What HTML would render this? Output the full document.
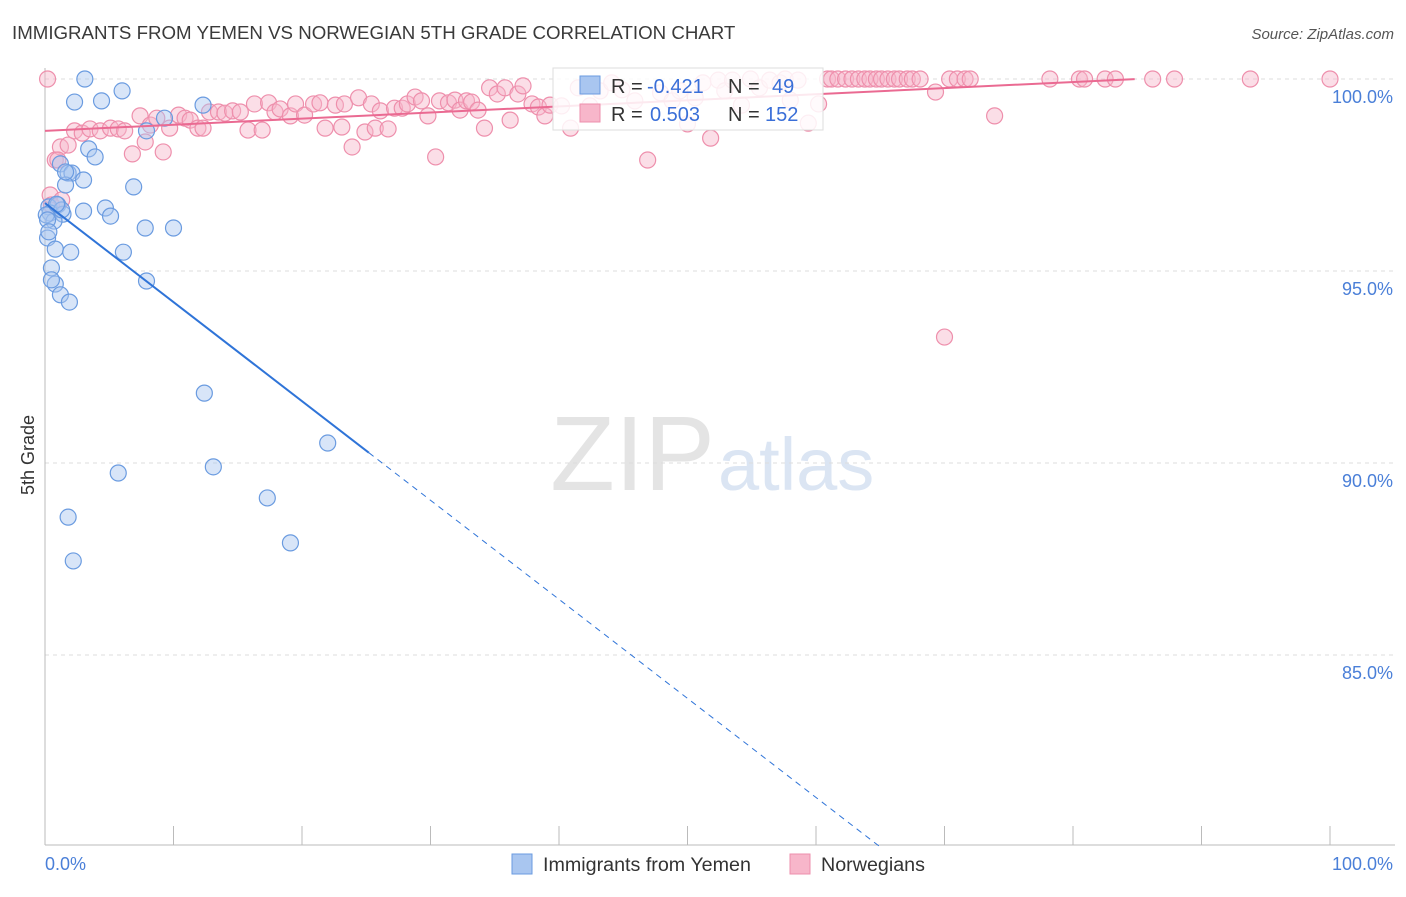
<!DOCTYPE html>
<html><head><meta charset="utf-8">
<style>
body{margin:0;background:#fff;font-family:"Liberation Sans",sans-serif;}
svg text{font-family:"Liberation Sans",sans-serif;}
</style></head>
<body>
<svg id="chart" width="1406" height="892" xmlns="http://www.w3.org/2000/svg">
<text x="12" y="39" font-size="18.7" fill="#3a3a3a">IMMIGRANTS FROM YEMEN VS NORWEGIAN 5TH GRADE CORRELATION CHART</text>
<text x="1394" y="39" font-size="15" fill="#555" text-anchor="end" font-style="italic">Source: ZipAtlas.com</text>
<text x="715" y="490" font-size="106" fill="#e4e4e4" text-anchor="end" font-family="Liberation Serif,serif">ZIP</text>
<text x="718" y="490" font-size="74" fill="#dbe5f3">atlas</text>
<text x="34" y="455" font-size="18" fill="#333" text-anchor="middle" transform="rotate(-90 34 455)">5th Grade</text>
<g id="grid"></g><g id="axes"></g><g id="marks"></g><g id="lines"></g>
<g>
<rect x="553" y="68" width="270" height="62" fill="#fff" fill-opacity="0.85" stroke="#ddd"/>
<rect x="580" y="76" width="20" height="18" fill="#a9c6f0" stroke="#6a9be0"/>
<rect x="580" y="104" width="20" height="18" fill="#f7b6ca" stroke="#ee8fac"/>
<text x="611" y="93" font-size="20" fill="#333">R =</text>
<text x="647" y="93" font-size="20" fill="#3a6fd8">-0.421</text>
<text x="728" y="93" font-size="20" fill="#333">N =</text>
<text x="772" y="93" font-size="20" fill="#3a6fd8">49</text>
<text x="611" y="121" font-size="20" fill="#333">R =</text>
<text x="650" y="121" font-size="20" fill="#3a6fd8">0.503</text>
<text x="728" y="121" font-size="20" fill="#333">N =</text>
<text x="765" y="121" font-size="20" fill="#3a6fd8">152</text>
</g>
<g>
<rect x="512" y="854" width="20" height="20" fill="#a9c6f0" stroke="#6a9be0"/>
<text x="543" y="871" font-size="19.7" fill="#333">Immigrants from Yemen</text>
<rect x="790" y="854" width="20" height="20" fill="#f7b6ca" stroke="#ee8fac"/>
<text x="821" y="871" font-size="19.7" fill="#333">Norwegians</text>
</g>
</svg>
<script>
const yTicks=[100,95,90,85];
const xTickLabels=["0.0%","100.0%"];
const blueX=[3.1,6,2.3,4.4,12.3,9.3,7.9,3.4,3.9,1.2,1.8,2.1,3,1.6,6.9,0.3,1,4.7,3,0.4,1.4,5.1,0.7,7.8,10,0.2,0.8,2,6.1,0.5,0.8,7.9,1.2,1.9,12.4,22,13.1,5.7,17.3,1.8,19.1,2.2,0.1,0.5,1.3,0.2,0.9,0.3,1.6];
const blueY=[100,99.69,99.4,99.43,99.32,98.98,98.65,98.18,97.97,97.79,97.55,97.55,97.37,97.24,97.19,96.67,96.72,96.64,96.56,96.51,96.48,96.43,96.3,96.12,96.12,95.86,95.57,95.49,95.49,95.08,94.66,94.74,94.38,94.19,91.82,90.52,89.9,89.74,89.09,88.59,87.92,87.45,96.46,94.77,96.59,96.33,96.74,96.02,97.58];
const pinkX=[0.8,1.2,1.8,2.3,2.9,3.5,4.3,5.1,5.7,6.2,6.8,7.4,7.8,8.2,8.7,9.2,9.7,10.4,10.9,11.3,11.9,12.3,12.8,13.5,14,14.6,15.2,15.8,16.3,16.9,17.4,17.9,18.3,19.1,19.5,20.2,20.9,21.4,21.8,22.6,23.1,23.3,23.9,24.4,24.9,25.4,25.7,26.1,26.7,27.2,27.8,28.2,28.8,29.3,29.8,30.4,30.7,31.4,31.9,32.3,32.8,33.2,33.7,34.2,34.6,35.2,35.8,36.2,36.8,37.2,37.9,38.4,38.9,39.3,40.2,40.9,41.5,42.4,43.2,44.1,44.9,45.9,46.9,47.9,48.8,49.4,50,50.6,51.2,51.8,52.4,52.9,53.5,54.2,54.9,55.6,56.4,57.2,57.6,58,58.6,59.4,60.2,60.9,61.2,61.7,62.3,62.8,63.3,63.8,64.2,64.7,65.1,65.6,66.1,66.5,67.1,67.5,68.1,69.3,70,70.4,71,71.6,72,73.9,78.2,80.5,80.9,82.5,83.3,86.2,87.9,93.8,100,0.2,0.4,0.5,1,1.3];
const pinkY=[97.89,98.23,98.28,98.65,98.59,98.7,98.65,98.72,98.7,98.65,98.05,99.04,98.36,98.8,98.98,98.1,98.72,99.06,98.98,98.93,98.72,98.72,99.14,99.14,99.11,99.17,99.14,98.67,99.35,98.67,99.38,99.14,99.22,99.04,99.35,99.06,99.35,99.38,98.72,99.32,98.75,99.35,98.23,99.51,98.62,99.35,98.72,99.17,98.7,99.24,99.24,99.35,99.53,99.43,99.04,97.97,99.43,99.38,99.45,99.19,99.43,99.4,99.19,98.72,99.77,99.61,99.77,98.93,99.61,99.82,99.35,99.27,99.04,99.32,99.3,98.72,99.77,99.3,99.69,99.9,99.72,99.43,97.89,99.64,99.43,99.69,98.83,99.51,99.9,98.46,99.97,99.69,99.97,99.32,100,99.77,99.97,99.9,100,99.45,99.97,98.85,99.35,100,100,100,100,100,100,100,100,100,100,100,100,100,100,100,100,99.66,93.28,100,100,100,100,99.04,100,100,100,100,100,100,100,100,100,100,96.98,96.72,97.89,96.85,96.9];
const blueFit={x0:0,y0:96.77,slope:-0.258,solidEnd:25.2,end:65};
const pinkFit={x0:0,y0:98.65,slope:0.0159,end:84.8};
const X0=45,X1=1330,Y100=79,PX_PER_PCT=38.4,BOTTOM=845;
function sx(v){return X0+(X1-X0)*v/100;}
function sy(v){return Y100+(100-v)*PX_PER_PCT;}
const NS="http://www.w3.org/2000/svg";
function mk(tag,attrs,parent){const e=document.createElementNS(NS,tag);for(const k in attrs)e.setAttribute(k,attrs[k]);parent.appendChild(e);return e;}
const grid=document.getElementById('grid'),axes=document.getElementById('axes'),marks=document.getElementById('marks'),lines=document.getElementById('lines');
yTicks.forEach(t=>{
 const l=mk('line',{x1:X0,x2:1395,y1:sy(t),y2:sy(t),stroke:'#ddd','stroke-dasharray':'4,4'},grid);
 
 
 const tx=mk('text',{x:1393,y:sy(t)+24,'font-size':18,fill:'#4a7fd8','text-anchor':'end'},axes);
 tx.textContent=t.toFixed(1)+'%';
 
 
});
const ax=mk('line',{x1:X0,x2:X0,y1:68,y2:BOTTOM,stroke:'#bbb'},axes);


const bx=mk('line',{x1:X0,x2:1395,y1:BOTTOM,y2:BOTTOM,stroke:'#bbb'},axes);


for(let i=0;i<=10;i++){const xx=X0+i*128.5;const tk=mk('line',{x1:xx,x2:xx,y1:826,y2:BOTTOM,stroke:'#bbb'},axes);
 
 }
const xl0=mk('text',{x:45,y:870,'font-size':18,fill:'#4a7fd8'},axes);xl0.textContent=xTickLabels[0];


const xl1=mk('text',{x:1393,y:870,'font-size':18,fill:'#4a7fd8','text-anchor':'end'},axes);xl1.textContent=xTickLabels[1];


pinkX.forEach((v,i)=>{const c=mk('circle',{cx:sx(v),cy:sy(pinkY[i]),r:8,fill:'#f7b6ca','fill-opacity':0.45,stroke:'#ee8fac','stroke-width':1.2},marks);
 
 });
blueX.forEach((v,i)=>{const c=mk('circle',{cx:sx(v),cy:sy(blueY[i]),r:8,fill:'#a9c6f0','fill-opacity':0.45,stroke:'#6a9be0','stroke-width':1.2},marks);
 
 });
const bf=v=>blueFit.y0+blueFit.slope*v;
const b1=mk('line',{x1:sx(0),y1:sy(bf(0)),x2:sx(blueFit.solidEnd),y2:sy(bf(blueFit.solidEnd)),stroke:'#2f74d8','stroke-width':2},lines);


const b2=mk('line',{x1:sx(blueFit.solidEnd),y1:sy(bf(blueFit.solidEnd)),x2:sx(blueFit.end),y2:sy(bf(blueFit.end)),stroke:'#2f74d8','stroke-width':1,'stroke-dasharray':'6,5'},lines);


const pf=v=>pinkFit.y0+pinkFit.slope*v;
const p1=mk('line',{x1:sx(0),y1:sy(pf(0)),x2:sx(pinkFit.end),y2:sy(pf(pinkFit.end)),stroke:'#ea6a92','stroke-width':2},lines);


</script>
</body></html>
